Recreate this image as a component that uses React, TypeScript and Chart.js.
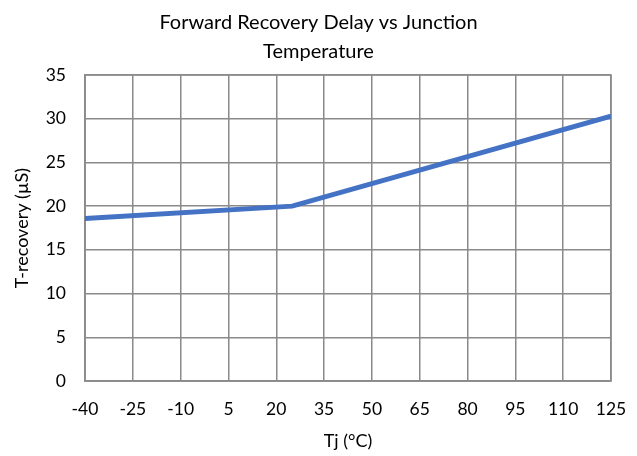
import React, { useEffect, useRef } from "react";
import { Chart, registerables } from "chart.js";

Chart.register(...registerables);

const tempC = [-40, 25, 125];
const recovery = [18.6, 20.0, 30.3];
const xTicks = [-40, -25, -10, 5, 20, 35, 50, 65, 80, 95, 110, 125];
const yTicks = [0, 5, 10, 15, 20, 25, 30, 35];

const FONT = "Lato, 'Open Sans', sans-serif";

export default function App() {
  const ref = useRef<HTMLCanvasElement | null>(null);
  useEffect(() => {
    document.body.style.margin = "0";
    const ctx = ref.current!;
    const chart = new Chart(ctx, {
      type: "scatter",
      data: {
        datasets: [
          {
            data: tempC.map((x, i) => ({ x, y: recovery[i] })),
            showLine: true,
            borderColor: "#4472C4",
            backgroundColor: "#4472C4",
            borderWidth: 5,
            pointRadius: 0,
            tension: 0,
          },
        ],
      },
      options: {
        animation: false,
        responsive: false,
        layout: { padding: { left: 4, right: 4, top: 4, bottom: 0 } },
        plugins: {
          legend: { display: false },
          tooltip: { enabled: false },
          title: {
            display: true,
            text: ["Forward Recovery Delay vs Junction", "Temperature"],
            color: "#000",
            font: { family: FONT, size: 20, weight: "normal", lineHeight: 1.45 },
            padding: { top: 4, bottom: 9 },
          },
        },
        scales: {
          x: {
            type: "linear",
            min: -40,
            max: 125,
            afterBuildTicks: (s: any) => {
              s.ticks = xTicks.map((v) => ({ value: v }));
            },
            afterFit: (s: any) => {
              s.height = 75;
              s.paddingRight = 26;
              s.paddingLeft = 0;
            },
            grid: { color: "#8a8a8a", lineWidth: 1.5, drawTicks: false },
            border: { color: "#8a8a8a", width: 1.5 },
            ticks: { color: "#000", font: { family: FONT, size: 17.5, lineHeight: 1.2 }, padding: 18, maxRotation: 0 },
            title: {
              display: true,
              text: "Tj (°C)",
              color: "#000",
              font: { family: FONT, size: 18, lineHeight: 1.2 },
              padding: { top: 4, bottom: 4 },
            },
          },
          y: {
            type: "linear",
            min: 0,
            max: 35,
            afterBuildTicks: (s: any) => {
              s.ticks = yTicks.map((v) => ({ value: v }));
            },
            afterFit: (s: any) => {
              s.width = 81;
            },
            grid: { color: "#8a8a8a", lineWidth: 1.5, drawTicks: false },
            border: { color: "#8a8a8a", width: 1.5 },
            ticks: { color: "#000", font: { family: FONT, size: 17.5, lineHeight: 1.2 }, padding: 19 },
            title: {
              display: true,
              text: "T-recovery (µS)",
              color: "#000",
              font: { family: FONT, size: 18, lineHeight: 1.2 },
              padding: { top: 7, bottom: 4 },
            },
          },
        },
      },
      plugins: [
        {
          id: "frame",
          beforeDatasetsDraw(c: any) {
            const { ctx: g, chartArea: a } = c;
            g.save();
            g.strokeStyle = "#8a8a8a";
            g.lineWidth = 1.5;
            g.strokeRect(a.left, a.top, a.right - a.left, a.bottom - a.top);
            g.restore();
          },
        },
      ],
    } as any);
    return () => chart.destroy();
  }, []);
  return <canvas ref={ref} width={637} height={456} style={{ display: "block" }} />;
}
